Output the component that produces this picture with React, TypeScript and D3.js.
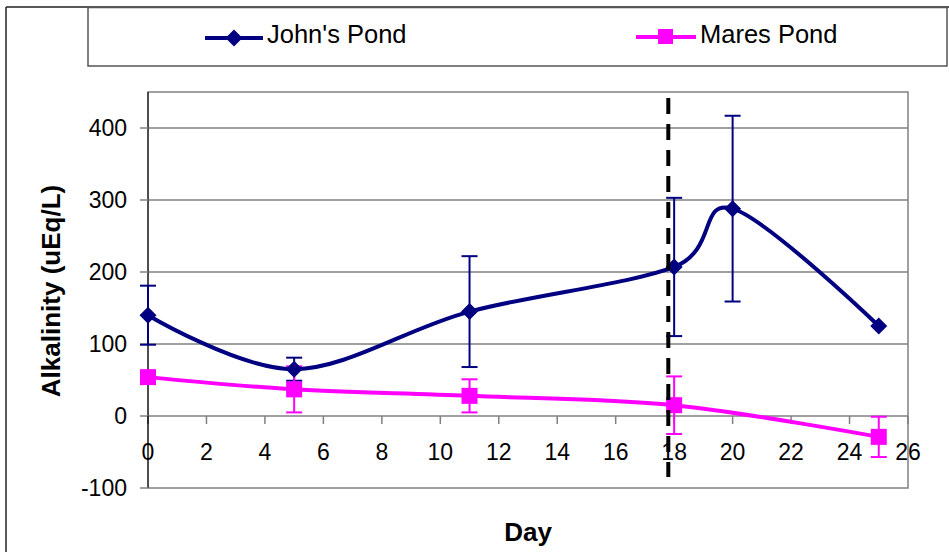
import React from "react";
import * as d3 from "d3";

const days = [0, 5, 11, 18, 20, 25];
const johnValues = [140, 65, 145, 207, 288, 125];
const johnErrors = [41, 16, 77, 96, 129, 0];
const maresDays = [0, 5, 11, 18, 25];
const maresValues = [54, 37, 28, 15, -29];
const maresErrors = [6, 32, 23, 40, 28];
const xTicks = d3.range(0, 27, 2);
const yTicks = [-100, 0, 100, 200, 300, 400];
const dashedDay = 17.8;
const seriesNames = ["John's Pond", "Mares Pond"];

const W = 949;
const H = 552;
const FONT = "'Liberation Sans', Arial, sans-serif";
const NAVY = "#000080";
const MAGENTA = "#FF00FF";
const GRID = "#808080";

export default function App() {
  const x = d3.scaleLinear().domain([0, 26]).range([148, 908]);
  const y = d3.scaleLinear().domain([-100, 450]).range([488, 92]);

  const line = d3
    .line<[number, number]>()
    .x((d) => x(d[0]))
    .y((d) => y(d[1]))
    .curve(d3.curveCatmullRom.alpha(0));

  const johnPts: [number, number][] = days.map((d, i) => [d, johnValues[i]]);
  const maresPts: [number, number][] = maresDays.map((d, i) => [d, maresValues[i]]);

  const diamond = (cx: number, cy: number, r: number) =>
    `M${cx},${cy - r}L${cx + r},${cy}L${cx},${cy + r}L${cx - r},${cy}Z`;

  const errBar = (dx: number, v: number, e: number, color: string, key: string) => {
    if (!e) return null;
    const px = x(dx);
    return (
      <g key={key} stroke={color} strokeWidth={2}>
        <line x1={px} x2={px} y1={y(v + e)} y2={y(v - e)} />
        <line x1={px - 8} x2={px + 8} y1={y(v + e)} y2={y(v + e)} />
        <line x1={px - 8} x2={px + 8} y1={y(v - e)} y2={y(v - e)} />
      </g>
    );
  };

  return (
    <svg
      width={W}
      height={H}
      style={{ position: "absolute", left: 0, top: 0, background: "#fff" }}
      fontFamily={FONT}
    >
      <rect x={0} y={0} width={W} height={H} fill="#fff" />
      {/* outer frame */}
      <line x1={6} x2={6} y1={7} y2={H} stroke="#222" strokeWidth={1.5} />
      <line x1={6} x2={W} y1={7} y2={7} stroke="#222" strokeWidth={1.5} />

      {/* legend */}
      <rect x={88} y={7.5} width={859} height={58.5} fill="#fff" stroke="#555" strokeWidth={1.5} />
      <line x1={205} x2={263} y1={38} y2={38} stroke={NAVY} strokeWidth={4} />
      <path d={diamond(234, 38, 8.5)} fill={NAVY} />
      <text x={267} y={43} fontSize={25.5} fill="#000">{seriesNames[0]}</text>
      <line x1={636} x2={696} y1={37} y2={37} stroke={MAGENTA} strokeWidth={4} />
      <rect x={658} y={29} width={15} height={15} fill={MAGENTA} />
      <text x={700} y={43} fontSize={25.5} fill="#000">{seriesNames[1]}</text>

      {/* plot area */}
      <rect x={148} y={92} width={760} height={396} fill="#fff" stroke={GRID} strokeWidth={1.5} />
      {yTicks
        .filter((t) => t > -100)
        .map((t) => (
          <line key={"g" + t} x1={148} x2={908} y1={y(t)} y2={y(t)} stroke={GRID} strokeWidth={1.5} />
        ))}
      {/* y axis */}
      <line x1={148} x2={148} y1={92} y2={488} stroke="#333" strokeWidth={1.5} />
      {yTicks.map((t) => (
        <g key={"yt" + t}>
          <line x1={140} x2={148} y1={y(t)} y2={y(t)} stroke={GRID} strokeWidth={1.5} />
          <text x={127} y={y(t) + 8} fontSize={23} textAnchor="end" fill="#000">
            {t}
          </text>
        </g>
      ))}
      {/* x axis ticks at y=0 */}
      {xTicks.map((t) => (
        <g key={"xt" + t}>
          <line
            x1={x(t)}
            x2={x(t)}
            y1={y(0)}
            y2={y(0) + 8}
            stroke={t === 0 ? "#222" : GRID}
            strokeWidth={1.5}
          />
          <text x={x(t)} y={460} fontSize={23} textAnchor="middle" fill="#000">
            {t}
          </text>
        </g>
      ))}

      {/* error bars */}
      {days.map((d, i) => errBar(d, johnValues[i], johnErrors[i], NAVY, "je" + i))}
      {maresDays.map((d, i) => errBar(d, maresValues[i], maresErrors[i], MAGENTA, "me" + i))}

      {/* lines */}
      <path d={line(maresPts) || ""} fill="none" stroke={MAGENTA} strokeWidth={4} />
      <path d={line(johnPts) || ""} fill="none" stroke={NAVY} strokeWidth={4} />

      {/* markers */}
      {maresPts.map((p, i) => (
        <rect key={"ms" + i} x={x(p[0]) - 8} y={y(p[1]) - 8} width={16} height={16} fill={MAGENTA} />
      ))}
      {johnPts.map((p, i) => (
        <path key={"jd" + i} d={diamond(x(p[0]), y(p[1]), 8.5)} fill={NAVY} />
      ))}

      {/* dashed vertical line */}
      <line
        x1={x(dashedDay)}
        x2={x(dashedDay)}
        y1={98}
        y2={477}
        stroke="#000"
        strokeWidth={4}
        strokeDasharray="16 10"
      />

      {/* axis titles */}
      <text x={528} y={541} fontSize={26} fontWeight="bold" textAnchor="middle" fill="#000">
        Day
      </text>
      <text
        transform={`translate(60,291) rotate(-90)`}
        fontSize={26}
        fontWeight="bold"
        textAnchor="middle"
        fill="#000"
      >
        Alkalinity (uEq/L)
      </text>
    </svg>
  );
}
